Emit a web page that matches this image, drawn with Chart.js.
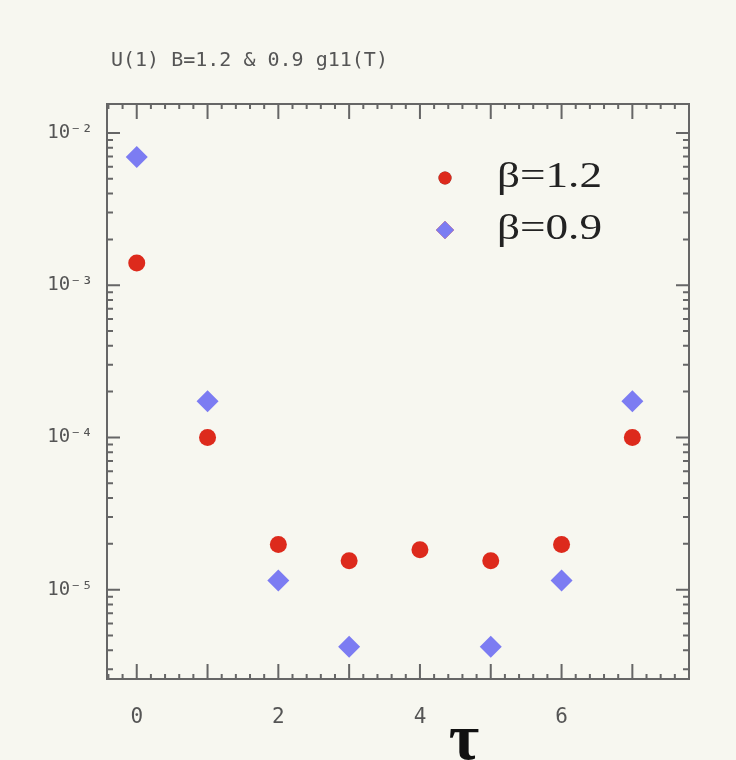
<!DOCTYPE html>
<html>
<head>
<meta charset="UTF-8">
<title>g11(T)</title>
<script src="https://cdn.jsdelivr.net/npm/chart.js"></script>
<style>
  body { margin: 0; background: #f7f7f0; }
  #grafico { display: block; }
</style>
</head>
<body>
<canvas id="grafico" width="736" height="760"></canvas>
<script>
var tau = [0, 1, 2, 3, 4, 5, 6, 7];
var g11Beta12 = [1.40e-3, 1.0e-4, 1.98e-5, 1.55e-5, 1.83e-5, 1.55e-5, 1.98e-5, 1.0e-4];
var g11Beta09 = [6.95e-3, 1.73e-4, 1.15e-5, 4.22e-6, null, 4.22e-6, 1.15e-5, 1.73e-4];
var serieNomes = ['β=1.2', 'β=0.9'];
var xTickLabels = [0, 2, 4, 6];
var yTickLabels = [1e-2, 1e-3, 1e-4, 1e-5];
var yTickTextos = ['10⁻²', '10⁻³', '10⁻⁴', '10⁻⁵'];
var xMin = -0.42, xMax = 7.8;
var yMin = 2.59e-6, yMax = 1.55e-2;
var titulo = 'U(1) B=1.2 & 0.9 g11(T)';
var eixoX = 'τ';

var corFundo = '#f7f7f0';
var corEixo = '#666';
var vermelho = '#dd2a1c';
var azul = '#7c7cf2';

function pontos(valores) {
    var lista = [];
    for (var i = 0; i < tau.length; i++) {
        if (valores[i] != null) lista.push({ x: tau[i], y: valores[i] });
    }
    return lista;
}

// marcas dos eixos para dentro, nos quatro lados
var marcasInternas = {
    id: 'marcasInternas',
    beforeDraw: function (chart) {
        var ctx = chart.ctx;
        ctx.save();
        ctx.fillStyle = corFundo;
        ctx.fillRect(0, 0, chart.width, chart.height);
        ctx.restore();
    },
    afterDraw: function (chart) {
        var ctx = chart.ctx;
        var a = chart.chartArea;
        var sx = chart.scales.x, sy = chart.scales.y;
        ctx.save();
        ctx.strokeStyle = corEixo;
        ctx.lineWidth = 2;
        ctx.strokeRect(a.left, a.top, a.right - a.left, a.bottom - a.top);

        ctx.beginPath();
        // eixo x: maior a cada 1, menor a cada 0.2
        for (var k = Math.ceil(xMin * 5); k <= Math.floor(xMax * 5); k++) {
            var px = sx.getPixelForValue(k / 5);
            var len = (k % 5 === 0) ? 15 : 5;
            ctx.moveTo(px, a.bottom); ctx.lineTo(px, a.bottom - len);
            ctx.moveTo(px, a.top); ctx.lineTo(px, a.top + len);
        }
        // eixo y log: decadas e 2..9
        for (var e = -6; e <= -1; e++) {
            for (var m = 1; m <= 9; m++) {
                var v = m * Math.pow(10, e);
                if (v < yMin || v > yMax) continue;
                var py = sy.getPixelForValue(v);
                var l = (m === 1) ? 13 : 6;
                ctx.moveTo(a.left, py); ctx.lineTo(a.left + l, py);
                ctx.moveTo(a.right, py); ctx.lineTo(a.right - l, py);
            }
        }
        ctx.stroke();

        // titulo
        ctx.fillStyle = '#555';
        ctx.font = '20px "DejaVu Sans Mono"';
        ctx.textBaseline = 'middle';
        ctx.textAlign = 'left';
        ctx.fillText(titulo, 111, 61);

        // legenda
        var ds = chart.data.datasets;
        var ly = [178, 230];
        ctx.font = '35px "Liberation Serif"';
        for (var i = 0; i < ds.length; i++) {
            Chart.helpers.drawPoint(ctx, {
                pointStyle: ds[i].pointStyle,
                radius: i === 0 ? 6.5 : 9,
                borderWidth: 0
            }, 445, ly[i]);
            ctx.fillStyle = ds[i].backgroundColor;
            ctx.fill();
            ctx.save();
            ctx.fillStyle = '#222';
            ctx.translate(497, ly[i]);
            ctx.scale(105 / ctx.measureText(ds[i].label).width, 1);
            ctx.fillText(ds[i].label, 0, 0);
            ctx.restore();
        }

        // rotulo do eixo x
        ctx.fillStyle = '#111';
        ctx.font = 'bold 66px "Liberation Serif"';
        ctx.textAlign = 'center';
        ctx.textBaseline = 'alphabetic';
        ctx.fillText(eixoX, 464, 759);
        ctx.restore();
    }
};

var config = {
    type: 'scatter',
    data: {
        datasets: [{
            label: serieNomes[0],
            data: pontos(g11Beta12),
            pointStyle: 'circle',
            radius: 8.5,
            borderWidth: 0,
            backgroundColor: vermelho,
            borderColor: vermelho
        }, {
            label: serieNomes[1],
            data: pontos(g11Beta09),
            pointStyle: 'rectRot',
            radius: 11,
            borderWidth: 0,
            backgroundColor: azul,
            borderColor: azul
        }]
    },
    options: {
        responsive: false,
        animation: false,
        devicePixelRatio: 1,
        layout: { padding: { left: 0, top: 104, right: 47, bottom: 0 } },
        plugins: {
            legend: { display: false },
            tooltip: { enabled: false }
        },
        scales: {
            x: {
                type: 'linear',
                min: xMin,
                max: xMax,
                grid: { display: false, drawTicks: false },
                border: { display: false },
                ticks: {
                    color: '#555',
                    padding: 26,
                    maxRotation: 0,
                    font: { family: 'DejaVu Sans Mono', size: 21 }
                },
                afterBuildTicks: function (s) {
                    s.ticks = xTickLabels.map(function (v) { return { value: v }; });
                },
                afterFit: function (s) { s.height = 81; }
            },
            y: {
                type: 'logarithmic',
                min: yMin,
                max: yMax,
                grid: { display: false, drawTicks: false },
                border: { display: false },
                ticks: {
                    color: '#555',
                    padding: 14,
                    font: { family: 'DejaVu Sans Mono', size: 19 },
                    callback: function (v) {
                        var i = yTickLabels.indexOf(v);
                        return i >= 0 ? yTickTextos[i] : '';
                    }
                },
                afterBuildTicks: function (s) {
                    s.ticks = yTickLabels.map(function (v) { return { value: v }; });
                },
                afterFit: function (s) { s.width = 107; }
            }
        }
    },
    plugins: [marcasInternas]
};

new Chart(document.getElementById('grafico'), config);
</script>
</body>
</html>
